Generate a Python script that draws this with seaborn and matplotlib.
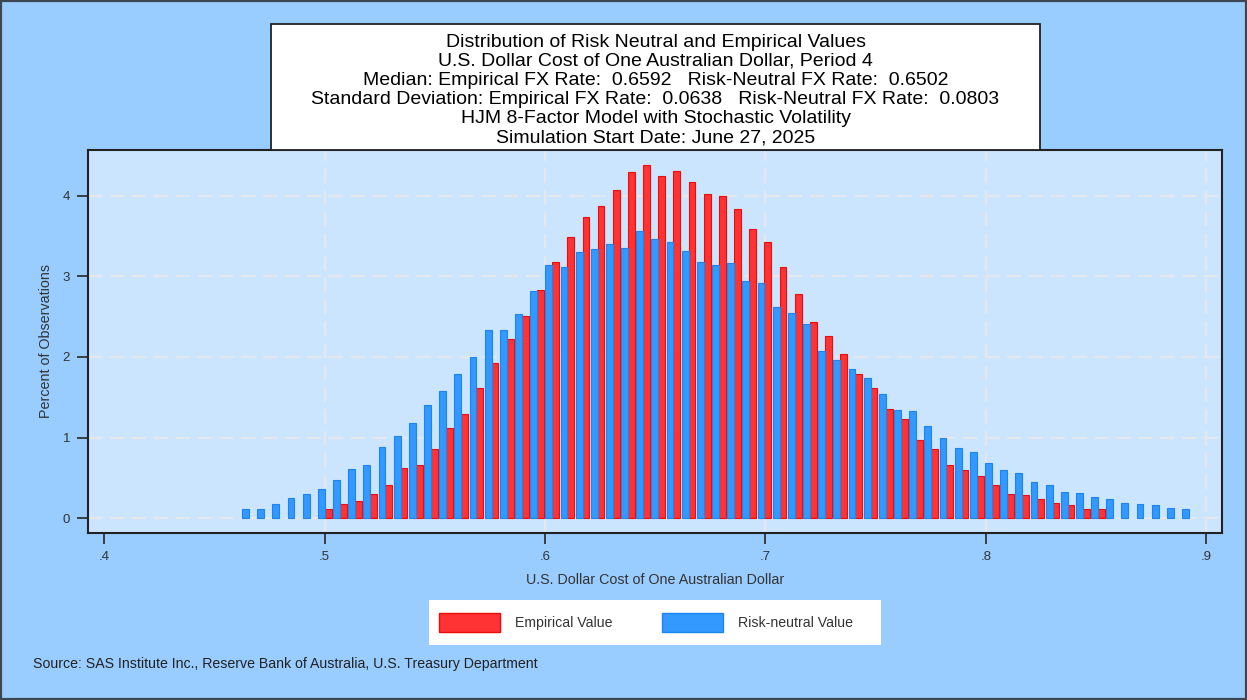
import numpy as np
import pandas as pd
import matplotlib.pyplot as plt
import seaborn as sns
from matplotlib.patches import Patch, Rectangle

# histogram bins shared by both series
bin_start = 0.4639
bin_width = 0.00688
red_first_bin = 5  # empirical values start in the 6th bin (dodged to the right half)

blue_pct = [0.12, 0.11, 0.18, 0.25, 0.30, 0.36, 0.47, 0.61, 0.66, 0.88,
            1.02, 1.18, 1.40, 1.58, 1.79, 2.00, 2.33, 2.33, 2.53, 2.82,
            3.14, 3.11, 3.30, 3.34, 3.40, 3.35, 3.56, 3.46, 3.42, 3.32,
            3.18, 3.14, 3.17, 2.94, 2.92, 2.62, 2.55, 2.41, 2.07, 1.96,
            1.85, 1.74, 1.54, 1.34, 1.33, 1.14, 0.99, 0.87, 0.82, 0.685,
            0.595, 0.56, 0.45, 0.41, 0.32, 0.31, 0.27, 0.24, 0.19, 0.18,
            0.165, 0.13, 0.115]
red_pct = [0.11, 0.18, 0.21, 0.30, 0.41, 0.62, 0.66, 0.855, 1.12, 1.29,
           1.62, 1.92, 2.22, 2.51, 2.83, 3.18, 3.49, 3.73, 3.87, 4.07,
           4.29, 4.38, 4.24, 4.31, 4.17, 4.02, 3.99, 3.84, 3.59, 3.43,
           3.12, 2.78, 2.43, 2.26, 2.04, 1.79, 1.62, 1.36, 1.23, 0.97,
           0.86, 0.66, 0.595, 0.53, 0.41, 0.30, 0.285, 0.24, 0.19, 0.17,
           0.11, 0.11]

title_lines = [
    "Distribution of Risk Neutral and Empirical Values",
    "U.S. Dollar Cost of One Australian Dollar, Period 4",
    "Median: Empirical FX Rate:  0.6592   Risk-Neutral FX Rate:  0.6502",
    "Standard Deviation: Empirical FX Rate:  0.0638   Risk-Neutral FX Rate:  0.0803",
    "HJM 8-Factor Model with Stochastic Volatility",
    "Simulation Start Date: June 27, 2025",
]
x_ticks = [0.4, 0.5, 0.6, 0.7, 0.8, 0.9]
x_tick_labels = [".4", ".5", ".6", ".7", ".8", ".9"]
y_ticks = [0, 1, 2, 3, 4]
source_note = "Source: SAS Institute Inc., Reserve Bank of Australia, U.S. Treasury Department"

red_fill, red_edge = "#FF3333", "#F00A0A"
blue_fill, blue_edge = "#3399FF", "#1A85F5"

sns.set_style("ticks")
plt.rcParams["font.family"] = ["Liberation Sans", "DejaVu Sans"]

n_bins = len(blue_pct)
centers = bin_start + np.arange(n_bins) * bin_width
edges = [float(e) for e in bin_start - bin_width / 4 + np.arange(n_bins + 1) * bin_width]

df = pd.concat([
    pd.DataFrame({"x": centers, "pct": blue_pct, "series": "Risk-neutral Value"}),
    pd.DataFrame({"x": centers[red_first_bin:red_first_bin + len(red_pct)],
                  "pct": red_pct, "series": "Empirical Value"}),
], ignore_index=True)

fig = plt.figure(figsize=(12.47, 7.0), dpi=100, facecolor="#99CCFF")
ax = fig.add_axes([0.0706, 0.2386, 0.9094, 0.5471])
ax.set_facecolor("#CCE5FF")

sns.histplot(data=df, x="x", weights="pct", hue="series",
             hue_order=["Risk-neutral Value", "Empirical Value"],
             bins=edges, multiple="dodge", shrink=0.9,
             palette=[blue_fill, red_fill], alpha=1, linewidth=0.8,
             legend=False, ax=ax)

for p in ax.patches:
    if p.get_height() <= 0:
        p.set_visible(False)
        continue
    r, g, b, _ = p.get_facecolor()
    p.set_edgecolor(red_edge if r > b else blue_edge)

ax.set_xlim(0.3926, 0.9072)
ax.set_ylim(-0.182, 4.566)
ax.set_xticks(x_ticks, x_tick_labels)
ax.set_yticks(y_ticks)
ax.grid(True, color="#E4E8EC", linestyle=(0, (7, 3.5)), linewidth=1.5)
ax.get_xgridlines()[0].set_visible(False)
ax.set_axisbelow(True)
for s in ax.spines.values():
    s.set_visible(True)
    s.set_color("#222222")
    s.set_linewidth(1.5)
ax.tick_params(direction="out", length=8, width=1.3, color="#333333",
               labelsize=9.5, labelcolor="#333333", pad=5)
ax.set_xlabel("U.S. Dollar Cost of One Australian Dollar", fontsize=10.3, color="#333333", labelpad=7)
ax.set_ylabel("Percent of Observations", fontsize=10.3, color="#333333", labelpad=7)

# title box
fig.add_artist(Rectangle((271 / 1247, 1 - 149.5 / 700), 769 / 1247, 125 / 700,
                         transform=fig.transFigure, facecolor="white",
                         edgecolor="#222222", linewidth=1.3, zorder=2))
fig.text(0.5257, 0.8715, "\n".join(title_lines), ha="center", va="center",
         fontsize=14, linespacing=1.16, color="black", zorder=3)

# legend box
fig.add_artist(Rectangle((429 / 1247, 1 - 645 / 700), 452 / 1247, 45 / 700,
                         transform=fig.transFigure, facecolor="white",
                         edgecolor="none", zorder=2))
handles = [Patch(facecolor=red_fill, edgecolor=red_edge, label="Empirical Value"),
           Patch(facecolor=blue_fill, edgecolor=blue_edge, label="Risk-neutral Value")]
leg = fig.legend(handles=handles, loc="center left", bbox_to_anchor=(439 / 1247, 1 - 622.8 / 700),
                 ncol=2, frameon=False, fontsize=10.2, handlelength=4.3, handleheight=1.7,
                 handletextpad=1.05, columnspacing=3.5, borderpad=0, borderaxespad=0)
leg.set_zorder(4)
for t in leg.get_texts():
    t.set_color("#333333")

fig.text(0.0265, 0.0514, source_note, ha="left", va="center", fontsize=10.2, color="#222222")

fig.add_artist(Rectangle((0, 0), 1, 1, transform=fig.transFigure, fill=False,
                         edgecolor="#3D4650", linewidth=3, zorder=5))

fig.savefig("out.png", dpi=100, facecolor=fig.get_facecolor())
